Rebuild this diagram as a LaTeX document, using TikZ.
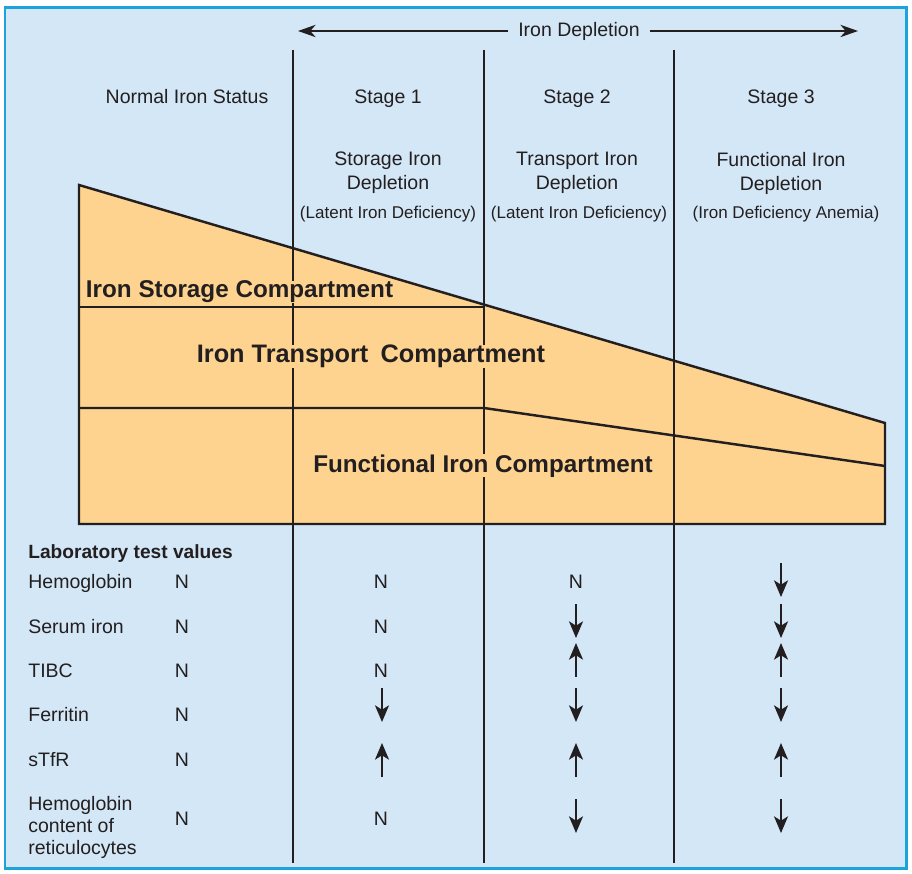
\documentclass[tikz,border=0pt]{standalone}
\usepackage{fontspec}
\setmainfont{Liberation Sans}
\usepackage{tikz}
\usetikzlibrary{arrows.meta}

\definecolor{panelblue}{HTML}{D4E7F6}
\definecolor{framecyan}{HTML}{1CA3DC}
\definecolor{ironfill}{HTML}{FDD38F}
\definecolor{inkgray}{HTML}{231F20}

\begin{document}
\begin{tikzpicture}[x=0.02cm,y=-0.02cm,
  txt/.style={text=inkgray,inner sep=0pt,font=\fontsize{11.1}{13.6}\selectfont},
  hd/.style={txt,align=center},
  sub/.style={txt,font=\fontsize{9.7}{12}\selectfont},
  comp/.style={txt,anchor=base,fill=ironfill,inner xsep=1.5pt,font=\fontsize{13.8}{16}\selectfont\bfseries},
  lab/.style={txt,anchor=base west},
  val/.style={txt,anchor=base},
  divider/.style={draw=inkgray,line width=1.4pt},
  trend/.style={draw=inkgray,line width=0.8pt,-{Stealth[length=9.5pt,width=8pt,inset=2.5pt]}}]

\useasboundingbox (0,0) rectangle (912,874);
\filldraw[fill=panelblue,draw=framecyan,line width=1.7pt] (5,8) rectangle (906,868);

% compartments
\filldraw[fill=ironfill,draw=inkgray,line width=1.4pt,line join=miter] (79,185) -- (885,423) -- (885,524) -- (79,524) -- cycle;
\draw[divider] (79,307) -- (484,307);
\draw[divider] (79,408) -- (484,408) -- (885,466);

% stage dividers
\foreach \x/\n in {293/a,484/b,674/c} {
  \coordinate (top\n) at (\x,50);
  \coordinate (bot\n) at (\x,863);
  \draw[divider] (top\n) -- (bot\n);
}

% depletion arrow
\node[txt,inner xsep=5.5pt] (depl) at (579,31) {Iron Depletion};
\coordinate (deplL) at (298,31);
\coordinate (deplR) at (858,31);
\draw[inkgray,line width=1.1pt,-{Stealth[length=10pt,width=7pt,inset=3pt]}] (depl) -- (deplL);
\draw[inkgray,line width=1.1pt,-{Stealth[length=10pt,width=7pt,inset=3pt]}] (depl) -- (deplR);

% headings
\node[val] (normal) at (187,104) {Normal Iron Status};
\node[val] (stA) at (388,104) {Stage 1};
\node[val] (stB) at (577,104) {Stage 2};
\node[val] (stC) at (781,104) {Stage 3};
\node[hd,anchor=north] (dA) at (388,152) {Storage Iron\\Depletion};
\node[hd,anchor=north] (dB) at (577,152) {Transport Iron\\Depletion};
\node[hd,anchor=north] (dC) at (781,152) {Functional Iron\\Depletion};
\node[sub] (pA) at (388,214) {(Latent Iron Deficiency)};
\node[sub] (pB) at (579,214) {(Latent Iron Deficiency)};
\node[sub] (pC) at (786,214) {(Iron Deficiency Anemia)};

% compartment labels
\node[comp,anchor=base west] (storage) at (83,298) {Iron Storage Compartment};
\node[comp,font=\fontsize{14.4}{17}\selectfont\bfseries] (transport) at (371,363) {Iron Transport\hspace{3pt} Compartment};
\node[comp] (functional) at (483,472) {Functional Iron Compartment};

% laboratory values
\node[lab,font=\fontsize{10.9}{13}\selectfont\bfseries] (labhead) at (28,558) {Laboratory test values};
\node[lab] (hb) at (28,588) {Hemoglobin};
\node[lab] (fe) at (28,633) {Serum iron};
\node[lab] (tibc) at (28,677) {TIBC};
\node[lab] (ferr) at (28,721) {Ferritin};
\node[lab] (stfr) at (28,766) {sTfR};
\node[txt,anchor=north west,align=left,font=\fontsize{11.1}{12.6}\selectfont] (chr) at (28,796) {Hemoglobin\\content of\\reticulocytes};

\foreach \x/\y in {182/588,182/633,182/677,182/721,182/766,182/825,
                   381/588,381/633,381/677,381/825,576/588}
  \node[val] at (\x,\y) {N};

% down = 1, up = -1
\foreach \x/\c/\d [count=\i] in {382/705/1,382/760/-1,
    576/621/1,576/660/-1,576/705/1,576/760/-1,576/816/1,
    781/580/1,781/621/1,781/660/-1,781/705/1,781/760/-1,781/816/1} {
  \coordinate (s\i) at (\x,{\c-17*(\d)});
  \coordinate (e\i) at (\x,{\c+17*(\d)});
  \draw[trend] (s\i) -- (e\i);
}
\end{tikzpicture}
\end{document}
